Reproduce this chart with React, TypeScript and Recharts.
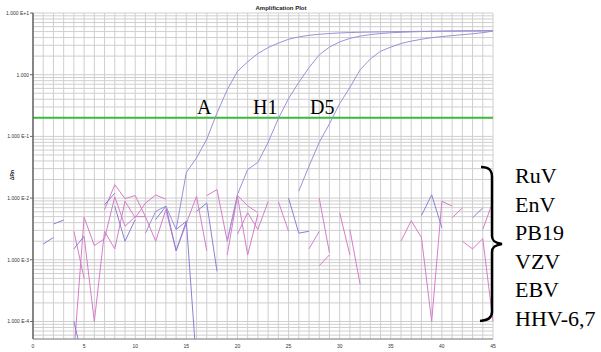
import React from 'react';
import { LineChart, Line, XAxis, YAxis, CartesianGrid, ReferenceLine } from 'recharts';

// cycle numbers on the x axis
const CYCLES = [
  0, 1, 2, 3, 4, 5, 6, 7, 8, 9, 10, 11, 12, 13, 14, 15, 16, 17, 18, 19, 20, 21, 22,
  23, 24, 25, 26, 27, 28, 29, 30, 31, 32, 33, 34, 35, 36, 37, 38, 39, 40, 41, 42, 43, 44, 45,
];
const X_LABELS = [0, 5, 10, 15, 20, 25, 30, 35, 40, 45];

const Y_MAJOR = [10, 1, 0.1, 0.01, 0.001, 0.0001];
const Y_LABELS = ['1.000 E+1', '1.000', '1.000 E-1', '1.000 E-2', '1.000 E-3', '1.000 E-4'];
const Y_MIN = 5.2e-5;
const Y_MAX = 10;

const THRESHOLD = 0.2;

// amplification curves (index = cycle)
const AMP_A = [
  null, null, null, null, null, null, null, null, null, null, null,
  0.0027, 0.0061, 0.0074, 0.0031, 0.026, 0.045, 0.09, 0.24, 0.57, 1.13, 1.62, 2.2, 2.75,
  3.25, 3.75, 4.1, 4.35, 4.52, 4.65, 4.75, 4.82, 4.87, 4.91, 4.94, 4.97, 5.0, 5.02, 5.04,
  5.06, 5.08, 5.1, 5.12, 5.14, 5.15, 5.17,
];
const AMP_H1 = [
  null, null, null, null, null, null, null, null, null, null, null, null, null, null, null,
  null, null, null, null,
  0.002, 0.0114, 0.029, 0.038, 0.08, 0.195, 0.41, 0.75, 1.3, 2.1, 2.8, 3.4, 3.88, 4.22,
  4.47, 4.65, 4.78, 4.87, 4.94, 5.0, 5.04, 5.08, 5.1, 5.12, 5.14, 5.15, 5.17,
];
const AMP_D5 = [
  null, null, null, null, null, null, null, null, null, null, null, null, null, null, null,
  null, null, null, null, null, null, null, null, null, null, null,
  0.013, 0.033, 0.08, 0.16, 0.34, 0.62, 1.2, 1.8, 2.4, 2.8, 3.2, 3.5, 3.75, 3.98, 4.15,
  4.3, 4.45, 4.6, 4.8, 5.1,
];

// negative samples (noise around baseline), null = not drawable on log axis
const NOISE_1 = [
  null, null, null, null, 0.0029, 0.0005, null, 0.0065, 0.0165, 0.0098, 0.011, 0.005,
  0.002, 0.0065, 0.0014, 0.0039, 0.0107, 0.0014, null, 0.0012, 0.011, 0.0075, 0.0058,
  null, 0.0088, 0.0029, null, 0.0015, 0.0029, null, 0.0058, 0.0012, null, null, null,
  null, 0.002, 0.0043, 0.0023, 0.0001, 0.0089, 0.0074, null, null, 0.0031, 0.0089,
];
const NOISE_2 = [
  null, null, null, null, null, 0.0024, 0.0001, 0.0029, 0.0015, 0.0089, 0.0048, 0.0083,
  0.0112, 0.0096, null, null, null, 0.011, 0.0137, 0.002, 0.0107, 0.0012, 0.0055, null,
  null, null, null, null, 0.01, 0.0013, null, 0.0031, 0.0004, null, null, null, null,
  null, null, null, null, 0.0048, 0.0069, null, null, null,
];
const NOISE_3 = [
  null, null, null, null, 0.00003, 0.0049, 0.0017, 0.0022, 0.0105, 0.0035, 0.005, 0.005,
  null, null, null, null, null, null, null, null, 0.0026, 0.0058, 0.0031, 0.0088, null,
  null, null, null, 0.0008, 0.0012, null, null, null, null, null, null, null, null, null,
  null, null, null, 0.002, 0.0015, 0.0022, 0.0001,
];
const NOISE_4 = [
  null, 0.0018, 0.0023, null, 0.0001, 0.00002, null, 0.0078, 0.012, null, null, null,
  null, null, 0.0031, 0.0042, 0.00002, null, null, null, null, null, null, null, null,
  null, null, null, null, null, null, null, null, null, null, null, null, null, null,
  null, null, null, null, null, null, null,
];
const NOISE_5 = [
  null, null, 0.0038, 0.0044, null, null, null, null, 0.0074, 0.002, 0.0045, null, null,
  null, null, null, 0.0061, 0.0083, 0.00065, null, null, null, null, null, null, 0.01,
  0.0027, 0.0029, null, null, null, null, null, null, null, null, null, null, 0.0052,
  0.0113, 0.0033, null, null, 0.0048, 0.0069, null,
];
const NOISE_6 = [
  null, null, null, null, 0.0015, 0.0024, null, null, null, null, null, null, 0.0045,
  0.0074, 0.0014, 0.0042, null, null, null, null, null, null, null, null, null, null,
  null, null, null, null, null, null, null, null, null, null, null, null, null, null,
  null, null, null, null, null, null,
];

const PINK = '#d67dca';
const BLUE = '#8a80d6';
const CURVE = '#9d90d8';

const rows = CYCLES.map((c, i) => ({
  cycle: c,
  a: AMP_A[i],
  h1: AMP_H1[i],
  d5: AMP_D5[i],
  n1: NOISE_1[i],
  n2: NOISE_2[i],
  n3: NOISE_3[i],
  n4: NOISE_4[i],
  n5: NOISE_5[i],
  n6: NOISE_6[i],
}));

// log grid: 1..9 in every decade
const yTicks: number[] = [];
[0.00001, 0.0001, 0.001, 0.01, 0.1, 1].forEach((d) => {
  for (let k = 1; k <= 9; k++) {
    const v = k * d;
    if (v >= Y_MIN && v <= Y_MAX) yTicks.push(v);
  }
});
yTicks.push(Y_MAX);

const majorIndex = (v: number) => Y_MAJOR.findIndex((m) => Math.abs(m - v) / m < 1e-6);

const XTick = (props: any) => {
  const { x, y, payload } = props;
  if (!X_LABELS.includes(payload.value)) return <g />;
  return (
    <text x={x} y={y + 9} fontSize={5} fontFamily="Liberation Sans, Arial" textAnchor="middle" fill="#333">
      {payload.value}
    </text>
  );
};

const YTick = (props: any) => {
  const { x, y, payload } = props;
  const idx = majorIndex(payload.value);
  if (idx < 0) return <g />;
  return (
    <g>
      <line x1={x} x2={x + 3} y1={y} y2={y} stroke="#666" strokeWidth={1} />
      <text x={x - 1} y={y + 2} fontSize={5} fontFamily="Liberation Sans, Arial" textAnchor="end" fill="#333">
        {Y_LABELS[idx]}
      </text>
    </g>
  );
};

const TARGETS = ['RuV', 'EnV', 'PB19', 'VZV', 'EBV', 'HHV-6,7'];

export default function App() {
  const noise = [
    { key: 'n1', color: PINK },
    { key: 'n2', color: PINK },
    { key: 'n3', color: PINK },
    { key: 'n4', color: BLUE },
    { key: 'n5', color: BLUE },
    { key: 'n6', color: BLUE },
  ];
  return (
    <div style={{ position: 'absolute', left: 0, top: 0, width: 601, height: 352, background: '#fff' }}>
      <LineChart width={601} height={352} data={rows} margin={{ top: 13, right: 108, bottom: 0, left: 0 }}>
        <CartesianGrid stroke="#cfcfcf" strokeWidth={1} />
        <XAxis
          dataKey="cycle"
          type="number"
          domain={[0, 45]}
          ticks={CYCLES}
          interval={0}
          tick={<XTick />}
          tickLine={false}
          tickSize={0}
          tickMargin={0}
          height={13}
          axisLine={{ stroke: '#888' }}
        />
        <YAxis
          scale="log"
          type="number"
          domain={[Y_MIN, Y_MAX]}
          allowDataOverflow
          ticks={yTicks}
          interval={0}
          tick={<YTick />}
          tickLine={false}
          tickSize={3}
          tickMargin={0}
          width={33}
          axisLine={{ stroke: '#666', strokeWidth: 1.5 }}
        />
        <ReferenceLine y={THRESHOLD} stroke="#3dbb3d" strokeWidth={2} />
        {noise.map((n) => (
          <Line
            key={n.key}
            dataKey={n.key}
            stroke={n.color}
            strokeWidth={1}
            dot={false}
            isAnimationActive={false}
          />
        ))}
        <Line dataKey="a" stroke={CURVE} strokeWidth={1} dot={false} isAnimationActive={false} />
        <Line dataKey="h1" stroke={CURVE} strokeWidth={1} dot={false} isAnimationActive={false} />
        <Line dataKey="d5" stroke={CURVE} strokeWidth={1} dot={false} isAnimationActive={false} />
      </LineChart>
      <svg
        width={601}
        height={352}
        style={{ position: 'absolute', left: 0, top: 0, pointerEvents: 'none' }}
      >
        <text x={281} y={10} fontSize={6} fontWeight="bold" fontFamily="Liberation Sans, Arial" textAnchor="middle" fill="#222">
          Amplification Plot
        </text>
        <text
          x={14}
          y={175}
          fontSize={5}
          fontWeight="bold"
          fontFamily="Liberation Sans, Arial"
          textAnchor="middle"
          fill="#222"
          transform="rotate(-90 14 175)"
        >
          ΔRn
        </text>
        <g fontFamily="Liberation Serif, Times New Roman, serif" fontSize={20} fill="#000">
          <text x={197} y={114}>A</text>
          <text x={253} y={114}>H1</text>
          <text x={310} y={114}>D5</text>
        </g>
        <path
          d="M481,167 C489,167 492,170 492,177 L492,236 C492,241 495,243 502,244 C495,245 492,247 492,252 L492,312 C492,318 488,320 480,321"
          stroke="#000"
          strokeWidth={2.5}
          fill="none"
        />
        <g fontFamily="Liberation Serif, Times New Roman, serif" fontSize={22} fill="#000">
          {TARGETS.map((t, i) => (
            <text key={t} x={515} y={183 + i * 28.6}>
              {t}
            </text>
          ))}
        </g>
      </svg>
    </div>
  );
}
